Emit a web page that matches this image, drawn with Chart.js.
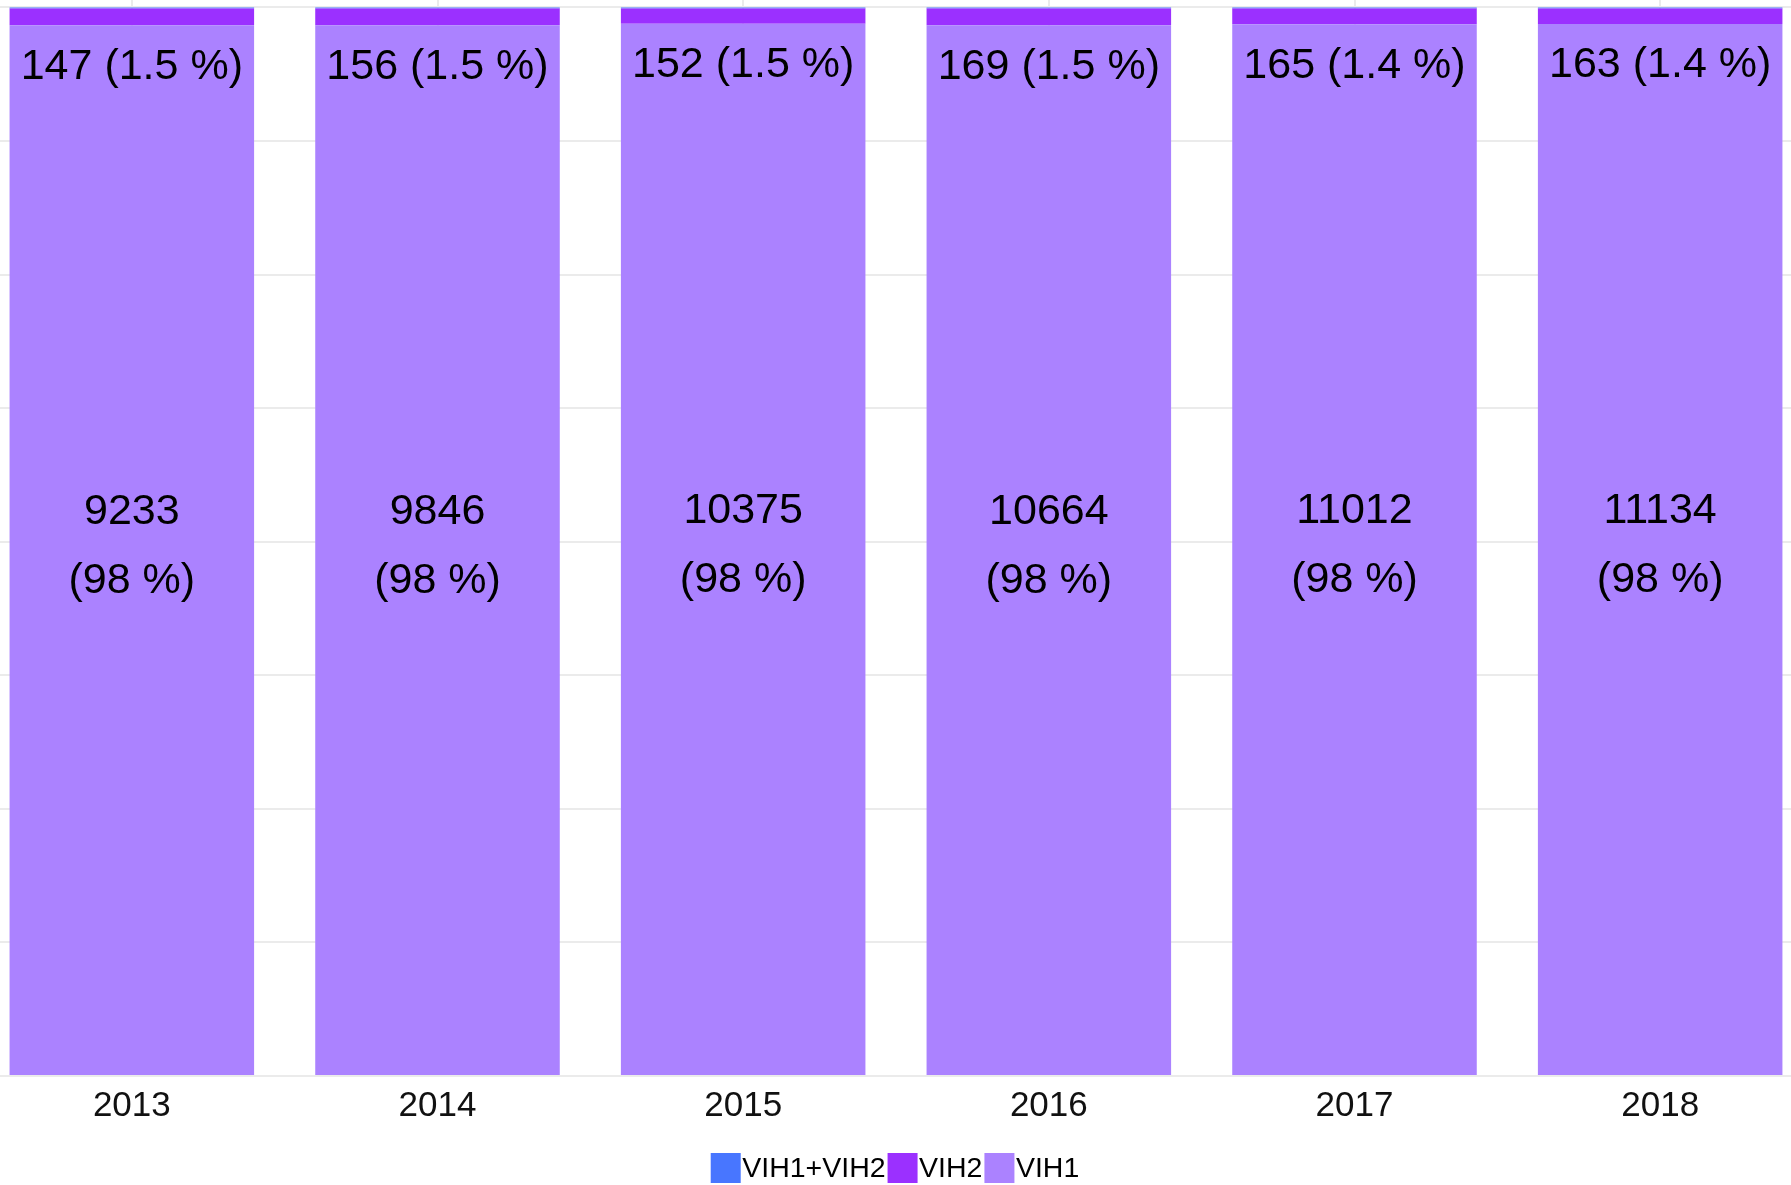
<!DOCTYPE html>
<html>
<head>
<meta charset="utf-8">
<script src="https://cdn.jsdelivr.net/npm/chart.js@4.4.1/dist/chart.umd.min.js"></script>
<style>
  html, body { margin: 0; padding: 0; background: #ffffff; overflow: hidden; width: 1791px; height: 1185px; }
  #wrap { position: absolute; left: -21px; top: 0; width: 1834px; height: 1185px; }
  canvas { display: block; }
</style>
</head>
<body>
<div id="wrap"><canvas id="c" width="1834" height="1185"></canvas></div>
<script>
// ---- data ----
const years = ['2013', '2014', '2015', '2016', '2017', '2018'];
const vih1 = [9233, 9846, 10375, 10664, 11012, 11134];
const vih2 = [147, 156, 152, 169, 165, 163];
const vih12 = [9, 10, 9, 11, 10, 11];            // VIH1+VIH2, tiny (estimated)
const vih1Pct = ['98', '98', '98', '98', '98', '98'];
const vih2Pct = ['1.5', '1.5', '1.5', '1.5', '1.4', '1.4'];
const yGridTicks = [0, 12.5, 25, 37.5, 50, 62.5, 75, 87.5, 100];
const seriesNames = ['VIH1+VIH2', 'VIH2', 'VIH1'];
const seriesColors = ['#4876FF', '#9B30FF', '#AB82FF'];

// shares for 100% stacking
const totals = years.map((_, i) => vih1[i] + vih2[i] + vih12[i]);
const share = arr => arr.map((v, i) => v / totals[i] * 100);

const OFFSET_X = 21; // canvas is shifted left by this many px

const labelPlugin = {
  id: 'labels',
  afterDatasetsDraw(chart) {
    const ctx = chart.ctx;
    const m1 = chart.getDatasetMeta(0); // VIH1
    const m2 = chart.getDatasetMeta(1); // VIH2
    ctx.save();
    ctx.fillStyle = '#000000';
    ctx.textAlign = 'center';
    ctx.textBaseline = 'middle';
    ctx.font = '43px "Liberation Sans", Arial, sans-serif';
    years.forEach((y, i) => {
      const b1 = m1.data[i];
      const b2 = m2.data[i];
      const c1 = (b1.y + b1.base) / 2;
      ctx.fillText(String(vih1[i]), b1.x, c1 - 38);
      ctx.fillText('(' + vih1Pct[i] + ' %)', b1.x, c1 + 31);
      ctx.fillText(vih2[i] + ' (' + vih2Pct[i] + ' %)', b2.x, b2.base + 41.5);
    });
    ctx.restore();
  },
  afterDraw(chart) {
    const ctx = chart.ctx;
    ctx.save();
    ctx.font = '28.5px "Liberation Sans", Arial, sans-serif';
    ctx.textBaseline = 'alphabetic';
    ctx.textAlign = 'left';
    const box = 30, gapBT = 1.5, gapTB = 2;
    let total = 0;
    const widths = seriesNames.map(n => ctx.measureText(n).width);
    widths.forEach((w, k) => { total += box + gapBT + w + (k < widths.length - 1 ? gapTB : 0); });
    let x = 895 + OFFSET_X - total / 2;
    const boxTop = 1153;
    seriesNames.forEach((n, k) => {
      ctx.fillStyle = seriesColors[k];
      ctx.fillRect(x, boxTop, box, box);
      x += box + gapBT;
      ctx.fillStyle = '#000000';
      ctx.fillText(n, x, 1177);
      x += widths[k] + gapTB;
    });
    ctx.restore();
  }
};

new Chart(document.getElementById('c'), {
  type: 'bar',
  data: {
    labels: years,
    datasets: [
      { label: 'VIH1', data: share(vih1), backgroundColor: '#AB82FF', borderWidth: 0 },
      { label: 'VIH2', data: share(vih2), backgroundColor: '#9B30FF', borderWidth: 0 },
      { label: 'VIH1+VIH2', data: share(vih12), backgroundColor: '#4876FF', borderWidth: 0 }
    ]
  },
  options: {
    responsive: false,
    animation: false,
    devicePixelRatio: 1,
    layout: { padding: { top: 0, left: 0, right: 0, bottom: 49 } },
    datasets: { bar: { barPercentage: 0.8, categoryPercentage: 1.0 } },
    plugins: { legend: { display: false }, tooltip: { enabled: false } },
    scales: {
      x: {
        stacked: true,
        offset: true,
        grid: { offset: false, color: '#ebebeb', lineWidth: 2, drawTicks: false },
        border: { display: false },
        ticks: { color: '#111111', padding: 9, font: { family: '"Liberation Sans", Arial, sans-serif', size: 35 } }
      },
      y: {
        stacked: true,
        min: 0,
        max: 100.7,
        afterBuildTicks: scale => { scale.ticks = yGridTicks.map(v => ({ value: v })); },
        grid: { color: '#ebebeb', lineWidth: 2, drawTicks: false },
        border: { display: false },
        ticks: { display: false }
      }
    }
  },
  plugins: [labelPlugin]
});
</script>
</body>
</html>
